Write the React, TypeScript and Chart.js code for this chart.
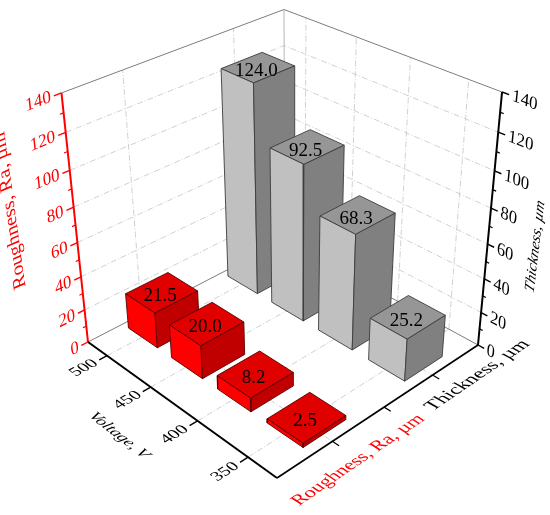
import React, { useEffect, useRef } from "react";
import { Chart, registerables } from "chart.js";

Chart.register(...registerables);

const voltages = ["500", "450", "400", "350"];
const roughness = [21.5, 20.0, 8.2, 2.5];
const thickness = [124.0, 92.5, 68.3, 25.2];
const valueTicks = [0, 20, 40, 60, 80, 100, 120, 140];
const minorTicks = [10, 30, 50, 70, 90, 110, 130];
const valueMax = 140;
const categoryTicks = [0.25, 0.5, 0.75];
const categoryGrid = [0.25, 0.75];

type V3 = [number, number, number];
type V2 = [number, number];

// frame corners of the 3D box as they land on the page
const cornerL: V2 = [88, 342];
const cornerF: V2 = [277, 478];
const cornerR: V2 = [478, 345];
const cornerB: V2 = [285, 240];
const cornerLT: V2 = [62, 91];
const cornerRT: V2 = [501.5, 94];

function buildProjection() {
  const [lx, ly] = cornerL, [fx, fy] = cornerF, [rx, ry] = cornerR, [bx, by] = cornerB;
  // wu*F + wv*B - L = k*R
  const a1 = fx - rx, b1 = bx - rx, c1 = lx - rx;
  const a2 = fy - ry, b2 = by - ry, c2 = ly - ry;
  const det = a1 * b2 - a2 * b1;
  const wu = (c1 * b2 - c2 * b1) / det;
  const wv = (a1 * c2 - a2 * c1) / det;
  const k = wu + wv - 1;
  const h = (p: V2, w = 1): V3 => [p[0] * w, p[1] * w, w];
  const L = h(cornerL);
  const cu = h(cornerF, wu).map((q, i) => q - L[i]);
  const cv = h(cornerB, wv).map((q, i) => q - L[i]);
  const R = h(cornerR, k);
  const wa = 0.886;
  const wb = 0.871;
  const c1z = h(cornerLT, wa).map((q, i) => q - L[i]);
  const c2z = h(cornerRT, wb).map((q, i) => q - R[i]);
  const cz = c1z.map((q, i) => (q + c2z[i]) / 2);
  return (p: V3): V2 => {
    const [u, v, z] = p;
    const X = L[0] + u * cu[0] + v * cv[0] + z * cz[0];
    const Y = L[1] + u * cu[1] + v * cv[1] + z * cz[1];
    const W = L[2] + u * cu[2] + v * cv[2] + z * cz[2];
    return [X / W, Y / W];
  };
}
const project = buildProjection();

const uOf = (i: number) => 0.115 + 0.25 * i;
const barU = (i: number) => uOf(i) + 0.005;
const grayV = 0.755;
const redV = 0.26;
const halfU = 0.085;
const halfV = 0.1;
const zOf = (val: number) => val / valueMax;

const GRID = "#d0d0d0";
const EDGE = "#7d7d7d";
const serif = '"Liberation Serif", "Times New Roman", serif';

const datasets: any[] = [];
function addPath(pts: V3[], o: { stroke?: string; width?: number; dash?: number[]; fill?: string }) {
  datasets.push({
    data: pts.map((p) => {
      const [x, y] = project(p);
      return { x, y };
    }),
    showLine: true,
    pointRadius: 0,
    tension: 0,
    clip: false,
    borderColor: o.stroke ?? "transparent",
    borderWidth: o.width ?? 1,
    borderDash: o.dash ?? [],
    borderJoinStyle: "miter",
    borderCapStyle: "butt",
    backgroundColor: o.fill ?? "transparent",
    fill: o.fill ? "shape" : false,
  });
}

function addBar(u: number, v: number, val: number, colors: { left: string; right: string; top: string; line: string }) {
  const z = zOf(val);
  const u0 = u - halfU, u1 = u + halfU, v0 = v - halfV, v1 = v + halfV;
  addPath([[u0, v0, z], [u1, v0, z], [u1, v1, z], [u0, v1, z], [u0, v0, z]], { fill: colors.top, stroke: colors.line, width: 0.9 });
  addPath([[u0, v0, 0], [u1, v0, 0], [u1, v0, z], [u0, v0, z], [u0, v0, 0]], { fill: colors.left, stroke: colors.line, width: 0.9 });
  addPath([[u1, v0, 0], [u1, v1, 0], [u1, v1, z], [u1, v0, z], [u1, v0, 0]], { fill: colors.right, stroke: colors.line, width: 0.9 });
}

// walls and floor
const gridDash = [6, 2, 1, 2];
valueTicks.slice(1, -1).forEach((t) => {
  const z = zOf(t);
  addPath([[0, 0, z], [0, 1, z], [1, 1, z]], { stroke: GRID, dash: gridDash });
});
voltages.forEach((_, i) => {
  addPath([[uOf(i), 1, 0], [uOf(i), 1, 1]], { stroke: GRID, dash: gridDash });
  addPath([[uOf(i), 0, 0], [uOf(i), 1, 0]], { stroke: GRID, dash: gridDash });
});
categoryGrid.forEach((v) => {
  addPath([[0, v, 0], [0, v, 1]], { stroke: GRID, dash: gridDash });
  addPath([[0, v, 0], [1, v, 0]], { stroke: GRID, dash: gridDash });
});
addPath([[0, 0, 0], [0, 1, 0], [1, 1, 0]], { stroke: EDGE, width: 1 });
addPath([[0, 0, 1], [0, 1, 1], [1, 1, 1]], { stroke: EDGE, width: 1 });
addPath([[0, 1, 0], [0, 1, 1]], { stroke: "#b5b5b5", width: 1 });

// bars, from the far corner forward
const grayBar = { left: "#c0c0c0", right: "#808080", top: "#969696", line: "#3c3c3c" };
const redBar = { left: "#ff0000", right: "#c00000", top: "#e00000", line: "#5a0000" };
thickness.forEach((val, i) => addBar(barU(i), grayV, val, grayBar));
roughness.forEach((val, i) => addBar(barU(i), redV, val, redBar));

// axes
addPath([[0, 0, 0], [0, 0, 1]], { stroke: "#ff0000", width: 2 });
addPath([[1, 1, 0], [1, 1, 1]], { stroke: "#000000", width: 2 });
addPath([[0, 0, 0], [1, 0, 0]], { stroke: "#000000", width: 2 });
addPath([[1, 0, 0], [1, 1, 0]], { stroke: "#000000", width: 1.6 });
valueTicks.forEach((t) => {
  const z = zOf(t);
  addPath([[0, 0, z], [0, -0.03, z]], { stroke: "#ff0000", width: 1.4 });
  addPath([[1, 1, z], [1.028, 1, z]], { stroke: "#000000", width: 1.4 });
});
minorTicks.forEach((t) => {
  const z = zOf(t);
  addPath([[0, 0, z], [0, -0.015, z]], { stroke: "#ff0000", width: 1.2 });
  addPath([[1, 1, z], [1.014, 1, z]], { stroke: "#000000", width: 1.2 });
});
voltages.forEach((_, i) => addPath([[uOf(i), 0, 0], [uOf(i), -0.035, 0]], { stroke: "#000000", width: 1.4 }));
categoryTicks.forEach((v) => addPath([[1, v, 0], [1.03, v, 0]], { stroke: "#000000", width: 1.2 }));

datasets.forEach((d, i) => {
  d.order = datasets.length - i;
});

function dirOf(a: V3, d: V3): V2 {
  const e = 0.01;
  const p0 = project(a);
  const p1 = project([a[0] + d[0] * e, a[1] + d[1] * e, a[2] + d[2] * e]);
  const dx = p1[0] - p0[0], dy = p1[1] - p0[1];
  const n = Math.hypot(dx, dy);
  return [dx / n, dy / n];
}

const U: V3 = [1, 0, 0], V: V3 = [0, 1, 0], Z: V3 = [0, 0, 1];
const neg = (d: V3): V3 => [-d[0], -d[1], -d[2]];

function label3d(
  ctx: CanvasRenderingContext2D,
  text: string,
  at: V3,
  base: V3,
  up: V3,
  font: string,
  color: string,
  align: CanvasTextAlign,
  upScale = 1
) {
  const [x, y] = project(at);
  const b = dirOf(at, base);
  const n = dirOf(at, up);
  ctx.save();
  ctx.transform(b[0], b[1], -n[0] * upScale, -n[1] * upScale, x, y);
  ctx.font = font;
  ctx.fillStyle = color;
  ctx.textAlign = align;
  ctx.textBaseline = "middle";
  ctx.fillText(text, 0, 0);
  ctx.restore();
}

const textPlugin = {
  id: "text3d",
  afterDatasetsDraw(chart: any) {
    const ctx: CanvasRenderingContext2D = chart.ctx;
    const f18 = `18px ${serif}`;
    valueTicks.forEach((t) => {
      label3d(ctx, String(t), [0, -0.042, zOf(t)], V, Z, f18, "#ff0000", "right");
      label3d(ctx, String(t), [1.04, 1, zOf(t)], U, Z, f18, "#000000", "left");
    });
    voltages.forEach((s, i) => {
      label3d(ctx, s, [uOf(i), -0.05, 0], V, neg(U), f18, "#000000", "right", 0.9);
    });
    label3d(ctx, "Voltage, V", [0.49, -0.235, 0], U, V, `italic 17px ${serif}`, "#000000", "center", 0.9);
    label3d(ctx, "Roughness, Ra, µm", [1.12, 0.245, 0], V, neg(U), `19.5px ${serif}`, "#ff0000", "center", 0.95);
    label3d(ctx, "Thickness, µm", [1.11, 0.86, 0], V, neg(U), `20px ${serif}`, "#000000", "center", 0.95);
    label3d(ctx, "Roughness, Ra, µm", [0, -0.245, 0.66], Z, neg(V), `20px ${serif}`, "#ff0000", "center", 0.95);
    label3d(ctx, "Thickness, µm", [1.19, 1, 0.505], Z, neg(U), `italic 16px ${serif}`, "#000000", "center", 0.95);
    ctx.save();
    ctx.font = `19px ${serif}`;
    ctx.fillStyle = "#000000";
    ctx.textAlign = "center";
    ctx.textBaseline = "middle";
    const xs = chart.scales.x, ys = chart.scales.y;
    const put = (val: number, u: number, v: number) => {
      const [x, y] = project([u, v, zOf(val)]);
      ctx.fillText(val.toFixed(1), xs.getPixelForValue(x) - 1.5, ys.getPixelForValue(y) + 4);
    };
    thickness.forEach((val, i) => put(val, barU(i), grayV));
    roughness.forEach((val, i) => put(val, barU(i), redV));
    ctx.restore();
  },
};

export default function App() {
  const ref = useRef<HTMLCanvasElement>(null);
  useEffect(() => {
    document.body.style.margin = "0";
    const chart = new Chart(ref.current!, {
      type: "scatter",
      data: { datasets },
      options: {
        animation: false,
        responsive: false,
        devicePixelRatio: 1,
        events: [],
        layout: { padding: 0 },
        plugins: { legend: { display: false }, tooltip: { enabled: false } },
        scales: {
          x: { type: "linear", min: 0, max: 550, display: false },
          y: { type: "linear", min: 0, max: 515, reverse: true, display: false },
        },
      },
      plugins: [textPlugin],
    } as any);
    return () => chart.destroy();
  }, []);
  return <canvas ref={ref} width={550} height={515} style={{ display: "block" }} />;
}
